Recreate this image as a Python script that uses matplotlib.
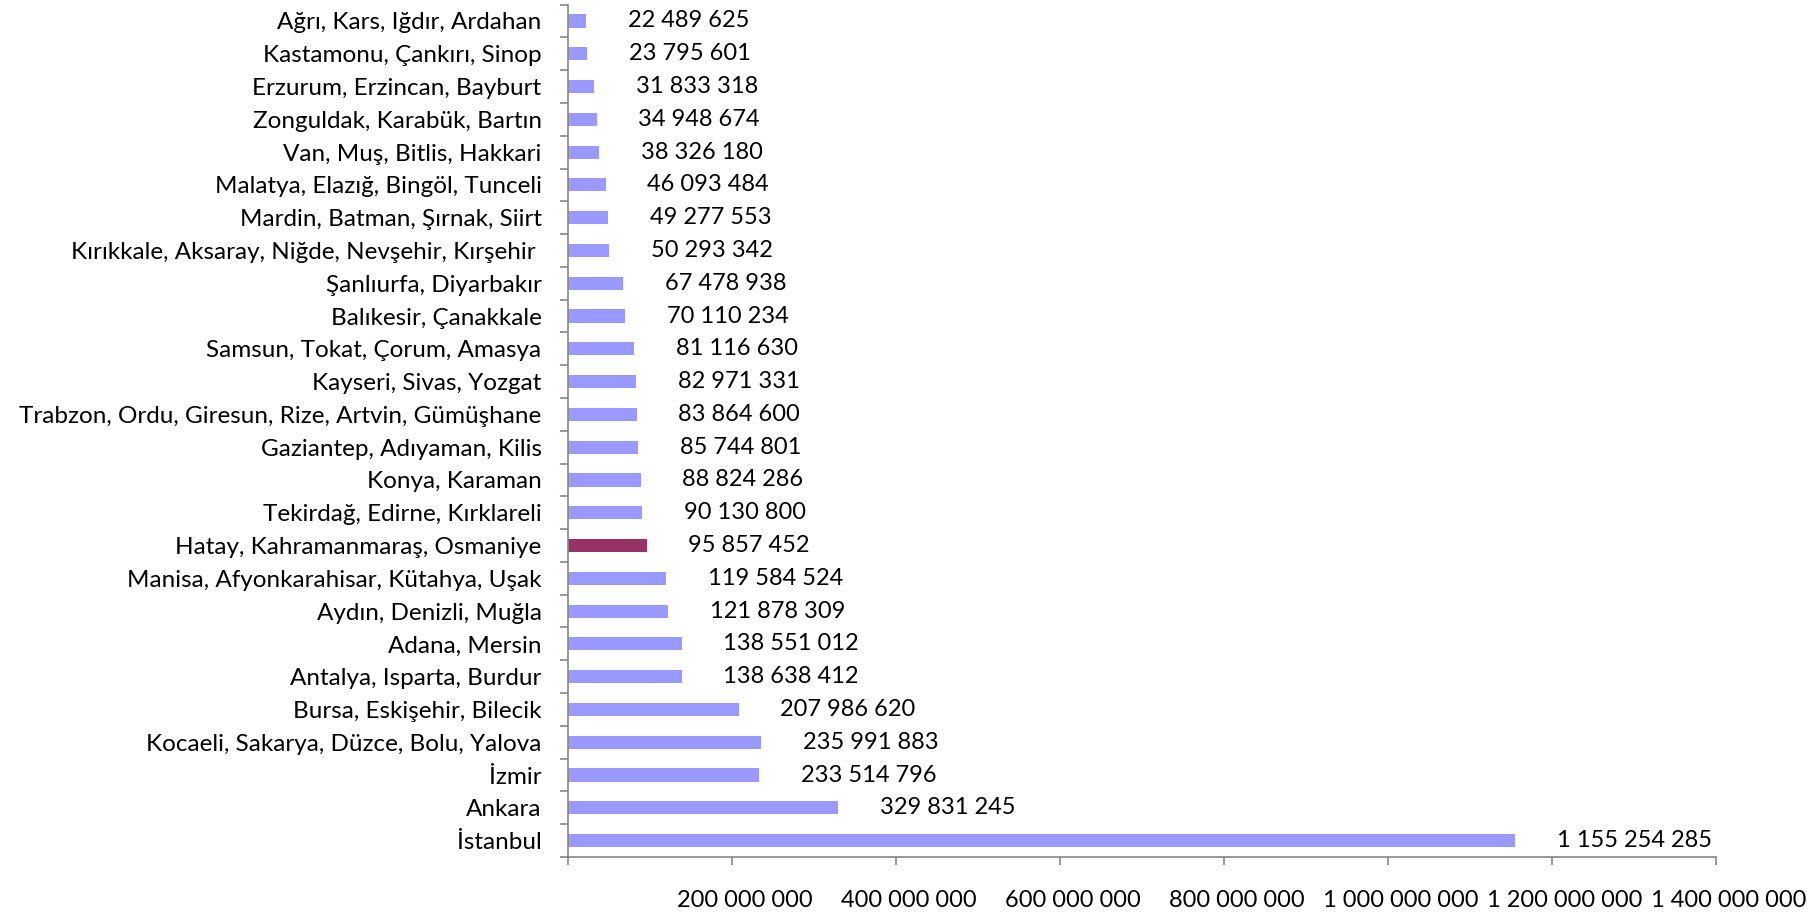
import matplotlib
matplotlib.use("Agg")
import matplotlib.pyplot as plt
import matplotlib.transforms as mtransforms

plt.rcParams['font.family'] = ['Lato', 'DejaVu Sans']

# top to bottom as in the chart
regions = [
    "Ağrı, Kars, Iğdır, Ardahan",
    "Kastamonu, Çankırı, Sinop",
    "Erzurum, Erzincan, Bayburt",
    "Zonguldak, Karabük, Bartın",
    "Van, Muş, Bitlis, Hakkari",
    "Malatya, Elazığ, Bingöl, Tunceli",
    "Mardin, Batman, Şırnak, Siirt",
    "Kırıkkale, Aksaray, Niğde, Nevşehir, Kırşehir ",
    "Şanlıurfa, Diyarbakır",
    "Balıkesir, Çanakkale",
    "Samsun, Tokat, Çorum, Amasya",
    "Kayseri, Sivas, Yozgat",
    "Trabzon, Ordu, Giresun, Rize, Artvin, Gümüşhane",
    "Gaziantep, Adıyaman, Kilis",
    "Konya, Karaman",
    "Tekirdağ, Edirne, Kırklareli",
    "Hatay, Kahramanmaraş, Osmaniye",
    "Manisa, Afyonkarahisar, Kütahya, Uşak",
    "Aydın, Denizli, Muğla",
    "Adana, Mersin",
    "Antalya, Isparta, Burdur",
    "Bursa, Eskişehir, Bilecik",
    "Kocaeli, Sakarya, Düzce, Bolu, Yalova",
    "İzmir",
    "Ankara",
    "İstanbul",
]
values = [
    22489625, 23795601, 31833318, 34948674, 38326180, 46093484, 49277553,
    50293342, 67478938, 70110234, 81116630, 82971331, 83864600, 85744801,
    88824286, 90130800, 95857452, 119584524, 121878309, 138551012,
    138638412, 207986620, 235991883, 233514796, 329831245, 1155254285,
]
highlight = "Hatay, Kahramanmaraş, Osmaniye"
xticks = [0, 200000000, 400000000, 600000000, 800000000, 1000000000, 1200000000, 1400000000]


def fmt(v):
    return f"{v:,}".replace(",", " ")


fig = plt.figure(figsize=(18.18, 9.15), dpi=100)
ax = fig.add_axes([0.3124, 0.0634, 0.6315, 0.9316])

n = len(regions)
ypos = list(range(n - 1, -1, -1))
colors = ["#993366" if r == highlight else "#9999FF" for r in regions]
ax.barh(ypos, values, height=0.4, color=colors, zorder=2)

for y, v in zip(ypos, values):
    ax.annotate(fmt(v), xy=(v, y), xytext=(30, 0), textcoords="offset points",
                ha="left", va="center", fontsize=17, color="black")

ax.set_xlim(0, 1400000000)
ax.set_ylim(-0.5, n - 0.5)

ax.set_yticks(ypos)
ax.set_yticklabels(regions, fontsize=17.5)
ax.set_yticks([i + 0.5 for i in range(-1, n)], minor=True)
ax.tick_params(axis="y", which="major", length=0, pad=19)
ax.tick_params(axis="y", which="minor", length=6, color="#868686", width=1.2)

ax.set_xticks(xticks)
ax.set_xticklabels([fmt(t) if t > 0 else "" for t in xticks], fontsize=17)
ax.tick_params(axis="x", length=6, color="#868686", width=1.2, pad=18)
offset = mtransforms.ScaledTranslation(9 / 72, 0, fig.dpi_scale_trans)
for lab in ax.get_xticklabels():
    lab.set_transform(lab.get_transform() + offset)

for side in ["top", "right"]:
    ax.spines[side].set_visible(False)
for side in ["left", "bottom"]:
    ax.spines[side].set_color("#868686")
    ax.spines[side].set_linewidth(1.2)

fig.savefig("out.png", dpi=100)
